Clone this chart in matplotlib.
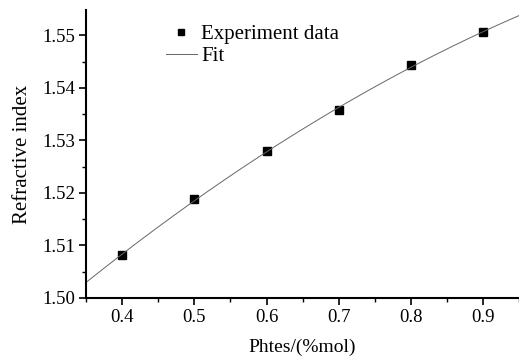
import numpy as np
import matplotlib.pyplot as plt
from matplotlib.ticker import MultipleLocator

# 实验数据
phtes = [0.4, 0.5, 0.6, 0.7, 0.8, 0.9]
n_exp = [1.5082, 1.5188, 1.5279, 1.5357, 1.5443, 1.5506]

# 二次拟合
coef = np.polyfit(phtes, n_exp, 2)
x_fit = np.linspace(0.35, 0.95, 200)
y_fit = np.polyval(coef, x_fit)

plt.rcParams['font.family'] = ['Liberation Serif', 'DejaVu Serif']

fig = plt.figure(figsize=(5.19, 3.62), dpi=100)
ax = fig.add_axes([0.166, 0.177, 0.834, 0.795])

ax.plot(phtes, n_exp, 's', color='black', markersize=5.5, label='Experiment data')
ax.plot(x_fit, y_fit, '-', color='#666666', linewidth=0.7, label='Fit')

ax.set_xlim(0.35, 0.95)
ax.set_ylim(1.50, 1.5548)
ax.xaxis.set_minor_locator(MultipleLocator(0.05))
ax.yaxis.set_minor_locator(MultipleLocator(0.005))
ax.set_xticks([0.4, 0.5, 0.6, 0.7, 0.8, 0.9])
ax.set_xticklabels(['0.4', '0.5', '0.6', '0.7', '0.8', '0.9'])
ax.set_yticks([1.50, 1.51, 1.52, 1.53, 1.54, 1.55])
ax.set_yticklabels(['1.50', '1.51', '1.52', '1.53', '1.54', '1.55'])

ax.spines['top'].set_visible(False)
ax.spines['right'].set_visible(False)
ax.spines['left'].set_linewidth(1.5)
ax.spines['bottom'].set_linewidth(1.5)
ax.tick_params(which='major', direction='out', length=5, width=1.2, labelsize=13.5, pad=3)
ax.tick_params(which='minor', direction='out', length=3, width=1.0)

ax.set_xlabel('Phtes/(%mol)', fontsize=14, labelpad=9)
ax.set_ylabel('Refractive index', fontsize=15, labelpad=7)

ax.legend(loc='upper left', bbox_to_anchor=(0.14, 1.015), frameon=False,
          fontsize=15, handlelength=1.5, handletextpad=0.2, labelspacing=0.1,
          markerscale=0.9)

fig.savefig('out.png', dpi=100)
